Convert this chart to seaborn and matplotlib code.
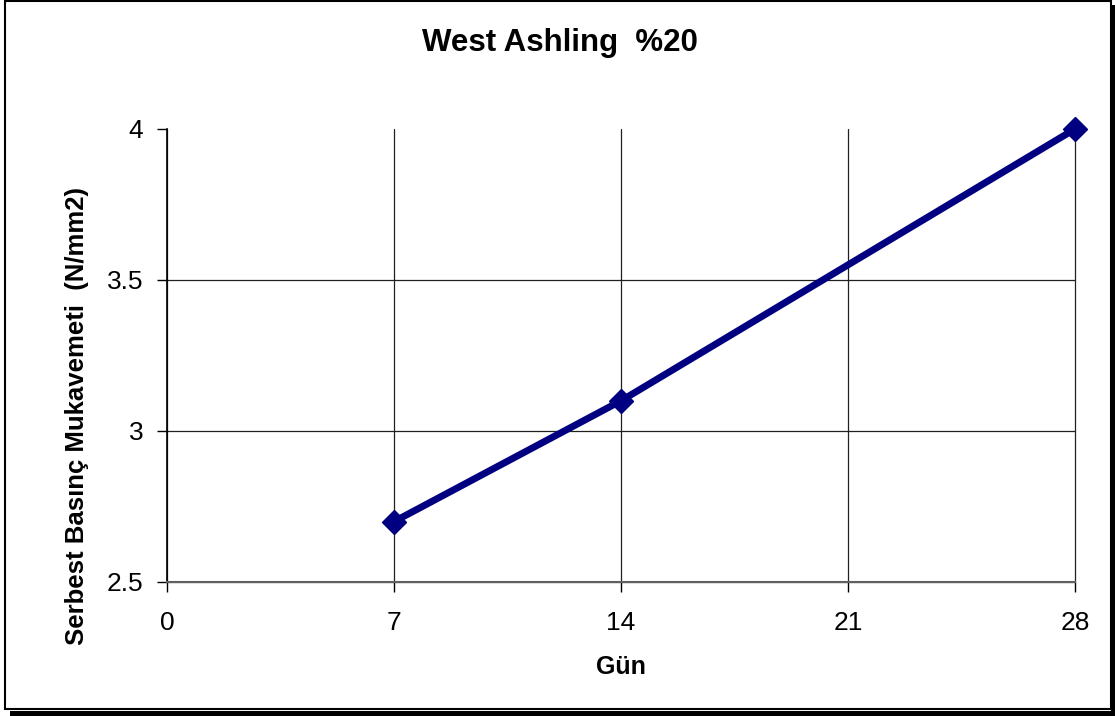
import matplotlib
matplotlib.use("Agg")
import matplotlib.pyplot as plt
import seaborn as sns
import pandas as pd
from matplotlib.patches import Rectangle

# Strength development over curing time
days = [7, 14, 28]
strength = [2.7, 3.1, 4.0]
x_ticks = [0, 7, 14, 21, 28]
y_ticks = [2.5, 3.0, 3.5, 4.0]
y_tick_labels = ["2.5", "3", "3.5", "4"]

title = "West Ashling  %20"
x_label = "Gün"
y_label = "Serbest Basınç Mukavemeti  (N/mm2)"

sns.set_theme(style="white")
plt.rcParams["font.family"] = ["Liberation Sans", "DejaVu Sans"]
plt.rcParams["text.color"] = "black"
plt.rcParams["axes.labelcolor"] = "black"
plt.rcParams["xtick.color"] = "black"
plt.rcParams["ytick.color"] = "black"

df = pd.DataFrame({"Gün": days, "Mukavemet": strength})

fig = plt.figure(figsize=(11.15, 7.16), dpi=100)
fig.patch.set_facecolor("white")

# Chart frame with drop shadow
W, H = 1115, 716
fig.add_artist(Rectangle((10 / W, 0), 1 - 10 / W, 5 / H, transform=fig.transFigure,
                         facecolor="black", edgecolor="none", zorder=0))
fig.add_artist(Rectangle((1111 / W, 0), 4 / W, 1 - 5 / H, transform=fig.transFigure,
                         facecolor="black", edgecolor="none", zorder=0))
fig.add_artist(Rectangle((5 / W, 7 / H), 1106 / W, 708 / H, transform=fig.transFigure,
                         facecolor="white", edgecolor="black", linewidth=1.5, zorder=0))

ax = fig.add_axes([167 / W, 1 - 582 / H, (1075 - 167) / W, (582 - 129) / H])
ax.set_facecolor("none")

sns.lineplot(data=df, x="Gün", y="Mukavemet", ax=ax, color="#000080",
             linewidth=5, marker="D", markersize=12, markeredgecolor="#000080",
             markeredgewidth=1, zorder=5, clip_on=False)

ax.set_xlim(0, 28)
ax.set_ylim(2.5, 4.0)
ax.set_xticks(x_ticks)
ax.set_xticklabels([str(t) for t in x_ticks], fontsize=19)
ax.set_yticks(y_ticks)
ax.set_yticklabels(y_tick_labels, fontsize=19)

ax.grid(True, color="#202020", linewidth=0.9)
for gl in ax.xaxis.get_gridlines() + ax.yaxis.get_gridlines():
    gl.set_clip_on(False)
# the top gridline is not drawn
ax.yaxis.get_gridlines()[-1].set_visible(False)

for side in ["top", "right"]:
    ax.spines[side].set_visible(False)
ax.spines["left"].set_color("black")
ax.spines["left"].set_linewidth(1.2)
ax.spines["bottom"].set_color("#606060")
ax.spines["bottom"].set_linewidth(1.5)

ax.tick_params(axis="both", which="major", direction="out", length=7, width=1,
               color="black", bottom=True, left=True, pad=10)
ax.tick_params(axis="x", pad=14)

ax.set_xlabel(x_label, fontsize=18, fontweight="bold", labelpad=14)
ax.set_ylabel(y_label, fontsize=18.5, fontweight="bold")
ax.yaxis.set_label_coords(-0.086, 0.366)
fig.text(560 / W, 1 - 43 / H, title, ha="center", va="center",
         fontsize=22.5, fontweight="bold")

fig.savefig("out.png", dpi=100)
